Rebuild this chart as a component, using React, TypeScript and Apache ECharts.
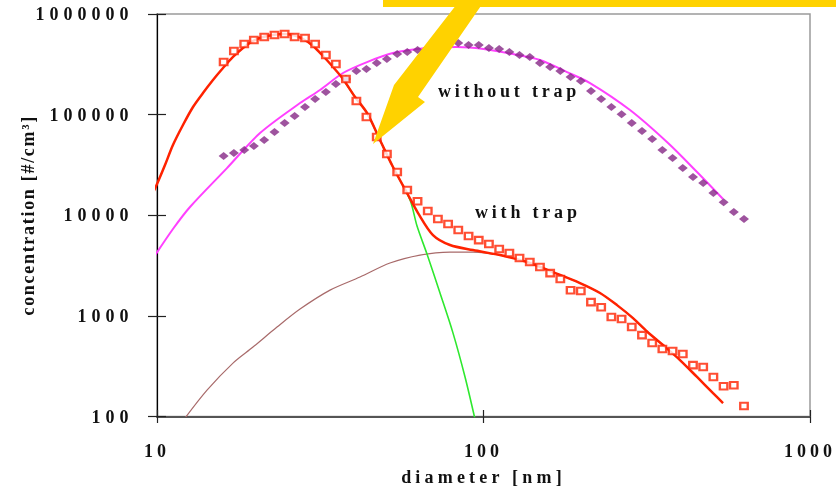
import { useEffect, useRef } from 'react';
import * as echarts from 'echarts';

// ---- data ----
const channelD = [16.0, 17.2, 18.5, 19.8, 21.3, 22.9, 24.6, 26.4, 28.4, 30.5, 32.9, 35.3, 37.9, 40.8, 43.8, 47.1, 50.6, 54.4, 58.4, 62.8, 67.5, 72.5, 77.9, 83.7, 90.0, 96.7, 103.9, 111.7, 120.0, 128.9, 138.6, 148.9, 160.0, 171.9, 184.8, 198.6, 213.4, 229.3, 246.4, 264.8, 284.5, 305.8, 328.6, 353.1, 379.4, 407.7, 438.1, 470.8, 505.9, 543.7, 584.2, 627.8];
const withTrap = [333000, 428500, 503500, 552000, 590000, 618000, 632500, 590000, 577000, 503500, 391000, 318000, 226000, 136500, 94600, 59800, 40600, 26900, 17800, 13800, 11000, 9170, 8180, 7130, 6210, 5660, 5170, 4610, 4210, 3760, 3430, 3055, 2660, 2320, 1800, 1765, 1370, 1220, 973, 929, 774, 644, 537, 468, 447, 417, 324, 310, 247, 200, 204, 127];
const withoutTrap = [38700, 41500, 44500, 48700, 56000, 67100, 82500, 96900, 119000, 143000, 168000, 201000, 226000, 271000, 284000, 326000, 357000, 400000, 419000, 438000, 459000, 515000, 481000, 515000, 492000, 492000, 459000, 449000, 419000, 391000, 374000, 326000, 297000, 271000, 237000, 216000, 172000, 143000, 119000, 101000, 82500, 68700, 57200, 44500, 37000, 29400, 24000, 20900, 16600, 13500, 10800, 9170];

const fitWithD = [9.52, 10, 10.58, 11.19, 12.01, 12.89, 13.83, 14.84, 15.93, 17.09, 18.34, 19.68, 21.12, 22.67, 24.32, 26.10, 28.01, 30.06, 32.25, 34.61, 37.13, 40.42, 43.98, 48.19, 52.82, 58.31, 63.03, 70.02, 78.96, 92.87, 112.3, 135.9, 163.3, 197.5, 227.4, 256.4, 287.0, 316.8, 354.6, 399.7, 450.8, 504.7, 541.5];
const fitWith = [14490, 20420, 31550, 49890, 78890, 119100, 164000, 220800, 290400, 374000, 459000, 539000, 590000, 618000, 632500, 618000, 564000, 481000, 382400, 297000, 226000, 149600, 103800, 55900, 30130, 16630, 10520, 6350, 5060, 4510, 4020, 3430, 2720, 2118, 1687, 1279, 950, 700, 513, 364, 247, 171, 136];

const mode1D = [37.13, 40.42, 43.98, 48.19, 52.82, 59.56, 62.58, 67.14, 73.58, 80.66, 87.79, 94.18];
const mode1 = [226000, 149600, 103800, 55900, 30130, 14160, 7816, 4110, 1687, 674, 247, 94.2];

const mode2D = [12.18, 14.23, 17.09, 19.68, 23.31, 27.42, 33.88, 41.86, 51.71, 63.92, 78.96, 92.87, 112.3, 135.9, 163.3, 197.5, 227.4, 256.4, 287.0, 316.8, 354.6, 399.7, 450.8, 504.7, 541.5];
const mode2 = [96.4, 182.8, 339.6, 489.8, 774, 1169, 1803, 2432, 3350, 4020, 4305, 4305, 4020, 3430, 2720, 2118, 1687, 1279, 950, 700, 513, 364, 247, 171, 136];

const fitWithoutD = [9.65, 11.19, 12.62, 16.38, 20.68, 27.42, 31.57, 37.13, 43.98, 52.82, 67.14, 82.95, 100, 123.1, 148.9, 180.2, 212.0, 281.0, 367.4, 450.8, 541.5];
const fitWithout = [3589, 7295, 12080, 29400, 65600, 130300, 175800, 259200, 333000, 409300, 459000, 469900, 449000, 400000, 349100, 264800, 206100, 111100, 52240, 26900, 14490];

const xTickLabels = ['10', '100', '1000'];
const yTickLabels = ['100', '1000', '10000', '100000', '1000000'];

const FONT = "'Liberation Serif', 'Times New Roman', serif";

const pairs = (xs: number[], ys: number[]) => xs.map((x, i) => [x, ys[i]]);

export default function App() {
  const ref = useRef<HTMLDivElement>(null);
  useEffect(() => {
    const el = ref.current;
    if (!el) return;
    const chart = echarts.init(el, null, { renderer: 'svg', width: 836, height: 486 });
    const labelStyle = { fontFamily: FONT, fontWeight: 'bold', fontSize: 18, color: '#111' };
    const xFmt = (v: number) => xTickLabels[Math.round(Math.log10(v)) - 1] ?? String(Math.round(v));
    const yFmt = (v: number) => yTickLabels[Math.round(Math.log10(v)) - 2] ?? String(Math.round(v));
    const tick = { color: '#222', width: 1.2 };
    const option: any = {
      animation: false,
      grid: {
        left: 157, right: 26, top: 14, bottom: 69.5,
        outerBoundsMode: 'none', containLabel: false,
        show: true, borderColor: '#9a9a9a', borderWidth: 1.5, backgroundColor: 'transparent',
      },
      xAxis: [
        {
          type: 'log', logBase: 10, min: 10, max: 1000, position: 'bottom',
          axisLine: { show: true, lineStyle: { color: '#555', width: 2 } },
          axisTick: { show: true, inside: false, length: 6.5, lineStyle: tick },
          axisLabel: { margin: 25, formatter: xFmt, ...labelStyle },
          splitLine: { show: false },
          name: 'diameter [nm]', nameLocation: 'middle', nameGap: 51, nameTextStyle: labelStyle,
        },
        {
          type: 'log', logBase: 10, min: 10, max: 1000, position: 'top', offset: -402.5,
          axisLine: { show: false },
          axisTick: { show: true, inside: false, length: 6.5, lineStyle: tick },
          axisLabel: { show: false }, splitLine: { show: false },
        },
      ],
      yAxis: [
        {
          type: 'log', logBase: 10, min: 100, max: 1000000, position: 'left',
          axisLine: { show: true, lineStyle: { color: '#000', width: 1.2 } },
          axisTick: { show: true, inside: false, length: 9, lineStyle: tick },
          axisLabel: { margin: 23.5, formatter: yFmt, ...labelStyle },
          splitLine: { show: false },
          name: 'concentration [#/cm³]', nameLocation: 'middle', nameRotate: 90, nameGap: 120, nameTextStyle: labelStyle,
        },
        {
          type: 'log', logBase: 10, min: 100, max: 1000000, position: 'right', offset: -653,
          axisLine: { show: false },
          axisTick: { show: true, inside: false, length: 9, lineStyle: tick },
          axisLabel: { show: false }, splitLine: { show: false },
        },
      ],
      series: [
        { type: 'line', name: 'mode 2', data: pairs(mode2D, mode2), symbol: 'none', smooth: 0.3, clip: true, lineStyle: { color: '#a86a6a', width: 1.2 }, z: 2 },
        { type: 'line', name: 'mode 1', data: pairs(mode1D, mode1), symbol: 'none', smooth: 0.3, clip: true, lineStyle: { color: '#2ee82e', width: 1.6 }, z: 2 },
        { type: 'line', name: 'fit without trap', data: pairs(fitWithoutD, fitWithout), symbol: 'none', smooth: 0.3, clip: false, lineStyle: { color: '#ff40ff', width: 2 }, z: 3 },
        { type: 'line', name: 'fit with trap', data: pairs(fitWithD, fitWith), symbol: 'none', smooth: 0.3, clip: false, lineStyle: { color: '#ff2200', width: 2.5 }, z: 4 },
        { type: 'scatter', name: 'without trap', data: pairs(channelD, withoutTrap), symbol: 'diamond', symbolSize: [10, 8], itemStyle: { color: '#862886' }, z: 5 },
        { type: 'scatter', name: 'with trap', data: pairs(channelD, withTrap), symbol: 'rect', symbolSize: [7.5, 6.5], itemStyle: { color: '#ffffff', borderColor: '#ff2200', borderWidth: 2.2 }, z: 6 },
      ],
      graphic: [
        { type: 'text', x: 438, y: 91, z: 50, style: { text: 'without trap', fontFamily: FONT, fontWeight: 'bold', fontSize: 18, fill: '#111', align: 'left', verticalAlign: 'middle' } },
        { type: 'text', x: 475, y: 212, z: 50, style: { text: 'with trap', fontFamily: FONT, fontWeight: 'bold', fontSize: 18, fill: '#111', align: 'left', verticalAlign: 'middle' } },
        { type: 'rect', z: 100, shape: { x: 383, y: 0, width: 453, height: 7 }, style: { fill: '#ffd200' } },
        { type: 'polygon', z: 100, shape: { points: [[460, 0], [485, 0], [418, 97], [425, 102], [373, 144], [394, 85]] }, style: { fill: '#ffd200' } },
      ],
    };
    chart.setOption(option);
    const apply = () => {
      el.querySelectorAll('text').forEach((t) => {
        const s = (t.textContent || '').trim();
        let ls = 0;
        if (/^\d+$/.test(s)) ls = t.getAttribute('text-anchor') === 'middle' ? 4 : 5;
        else if (s.startsWith('diameter')) ls = 4.2;
        else if (s.startsWith('with')) ls = 3.8;
        else if (s.startsWith('concentration')) ls = 1.7;
        if (ls) t.setAttribute('letter-spacing', String(ls));
      });
    };
    apply();
    chart.on('finished', apply);
    const raf = requestAnimationFrame(apply);
    return () => {
      cancelAnimationFrame(raf);
      chart.dispose();
    };
  }, []);
  return <div ref={ref} style={{ position: 'fixed', left: 0, top: 0, width: 836, height: 486 }} />;
}
